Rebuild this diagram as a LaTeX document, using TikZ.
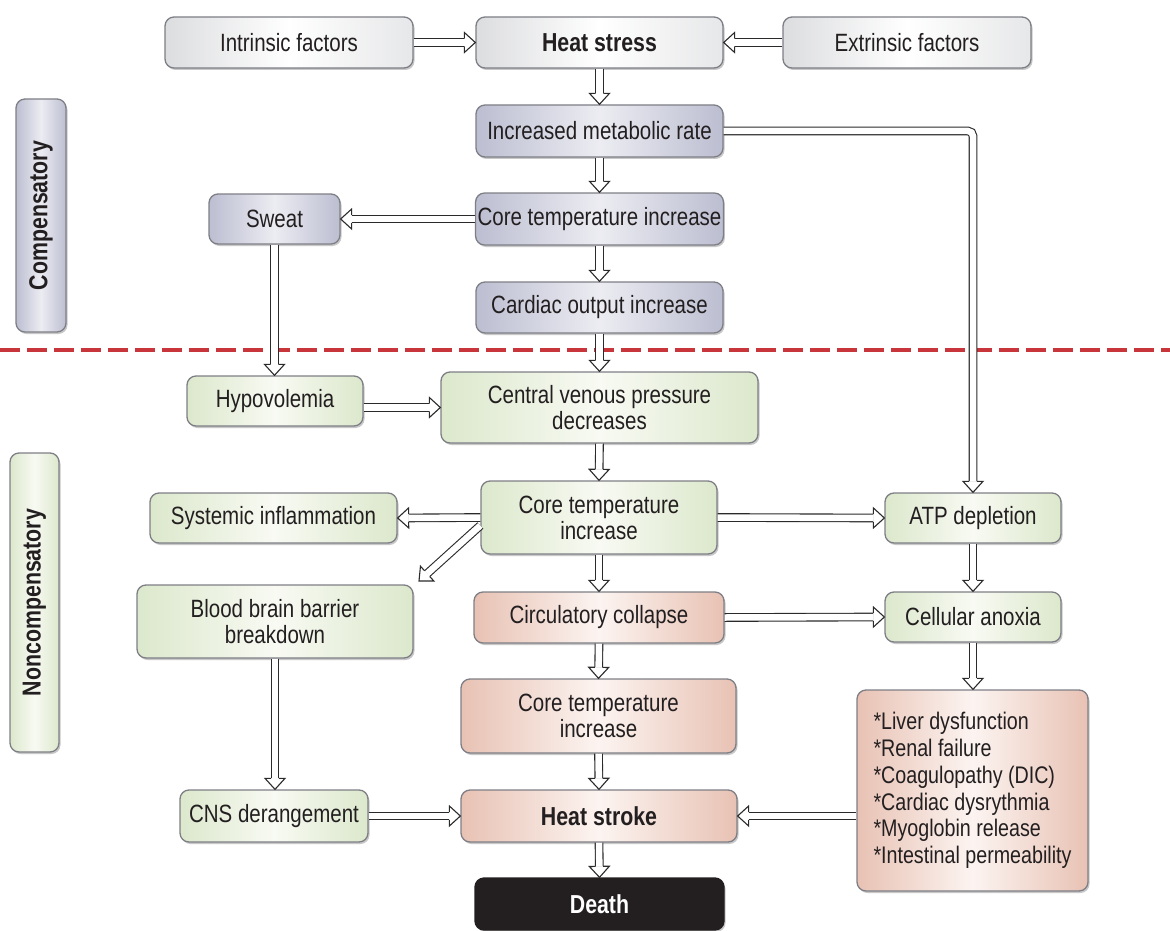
\documentclass[tikz,border=0pt]{standalone}
\usepackage{fontspec}
\setmainfont{Liberation Sans}[FakeStretch=0.82]
\usetikzlibrary{calc,shadows}
\definecolor{txt}{HTML}{231F20}
\definecolor{grayE}{HTML}{DCDDDF}
\definecolor{blueE}{HTML}{BCBED1}
\definecolor{blueM}{HTML}{ECECF2}
\definecolor{greenE}{HTML}{DCE8CC}
\definecolor{greenM}{HTML}{F8FAF3}
\definecolor{pinkE}{HTML}{E8C2B4}
\definecolor{pinkM}{HTML}{FCF4F1}
\definecolor{dashred}{HTML}{C8363B}
\definecolor{boxline}{HTML}{7E7F86}
\definecolor{deathc}{HTML}{231F20}
\definecolor{arrowc}{HTML}{2A2A2A}
\newcommand\boxfont{\fontsize{25}{26}\selectfont}
\newcommand\boldfont{\fontsize{26}{27}\selectfont\bfseries}
\newcommand\hsarrow[2]{%
  \coordinate (hA) at (#1);
  \coordinate (hB) at (#2);
  \coordinate (hC) at ($(hB)!11pt!(hA)$);
  \draw[shaftline] (hA) -- (hC);
  \arrowhead}
\newcommand\arrowhead{%
  \filldraw[headline] ($(hC)!3.8pt!90:(hB)$) -- ($(hC)!10pt!90:(hB)$) -- (hB)
    -- ($(hC)!10pt!-90:(hB)$) -- ($(hC)!3.8pt!-90:(hB)$);}
\tikzset{
  sz/.style 2 args={minimum width=#1pt, minimum height=#2pt},
  box/.style={rounded corners=9pt, draw=boxline, line width=1.3pt, inner sep=2pt,
    align=center, font=\boxfont, text=txt,
    drop shadow={opacity=0.3, shadow xshift=1.5pt, shadow yshift=-2pt, fill=black!70}},
  grayb/.style={box, left color=grayE, right color=grayE!70, middle color=white},
  blueb/.style={box, left color=blueE, right color=blueE, middle color=blueM},
  greenb/.style={box, left color=greenE, right color=greenE, middle color=greenM},
  pinkb/.style={box, left color=pinkE, right color=pinkE, middle color=pinkM},
  deathb/.style={box, fill=deathc, draw=deathc, text=white, font=\boldfont},
  boldt/.style={font=\boldfont},
  shaftline/.style={draw=arrowc, line width=1.1pt, double=white, double distance=6.5pt},
  headline/.style={draw=arrowc, line width=1.1pt, fill=white, line join=miter},
}
\begin{document}
\begin{tikzpicture}[x=1pt,y=-1pt]
\useasboundingbox[fill=white] (0,0) rectangle (1170,931);
% dashed separator
\draw[dashred, line width=4pt, dash pattern=on 20pt off 7pt] (0,350) -- (1170,350);
% top row
\node[grayb, sz={248}{51}] (intr) at (289,42.5) {Intrinsic factors};
\node[grayb, boldt, sz={247}{51}] (hs) at (599.5,42.5) {Heat stress};
\node[grayb, sz={248}{51}] (extr) at (907,42.5) {Extrinsic factors};
% compensatory
\node[blueb, sz={247}{52}] (imr) at (599.5,131) {Increased metabolic rate};
\node[blueb, sz={247}{52}] (cti1) at (599.5,219) {Core temperature increase};
\node[blueb, sz={247}{51}] (coi) at (599.5,307.5) {Cardiac output increase};
\node[blueb, sz={131}{50}] (sweat) at (274.5,219) {Sweat};
\node[blueb, boldt, rotate=90, sz={233}{50}] (comp) at (41,215.5) {Compensatory};
% noncompensatory
\node[greenb, boldt, rotate=90, sz={299}{49}] (noncomp) at (34.5,602.5) {Noncompensatory};
\node[greenb, sz={176}{50}] (hypo) at (275,401) {Hypovolemia};
\node[greenb, sz={317}{71}] (cvp) at (599.5,407.5) {Central venous pressure\\decreases};
\node[greenb, sz={247}{50}] (sysinf) at (273.5,518) {Systemic inflammation};
\node[greenb, sz={236}{73}] (cti2) at (599,517.5) {Core temperature\\increase};
\node[greenb, sz={176}{50}] (atp) at (973,518) {ATP depletion};
\node[greenb, sz={276}{73}] (bbb) at (275,621.5) {Blood brain barrier\\breakdown};
\node[pinkb, sz={250}{51}] (cc) at (599,617.5) {Circulatory collapse};
\node[greenb, sz={176}{50}] (ca) at (973,617) {Cellular anoxia};
\node[pinkb, sz={275}{74}] (cti3) at (598.5,716) {Core temperature\\increase};
\node[pinkb, sz={231}{201}, align=left, font=\fontsize{24}{26.7}\selectfont] (liver) at (972.5,790.5)
  {*Liver dysfunction\\*Renal failure\\*Coagulopathy (DIC)\\*Cardiac dysrythmia\\*Myoglobin release\\*Intestinal permeability};
\node[greenb, sz={188}{52}] (cns) at (274,816) {CNS derangement};
\node[pinkb, boldt, sz={276}{52}] (hstroke) at (599,816) {Heat stroke};
\node[deathb, sz={249}{52}] (death) at (599.5,904) {Death};
\coordinate (bbbtip) at (419,581);
% arrows
\hsarrow{intr.east}{hs.west}
\hsarrow{extr.west}{hs.east}
\hsarrow{hs.south}{imr.north}
\hsarrow{imr.south}{cti1.north}
\hsarrow{cti1.west}{sweat.east}
\hsarrow{cti1.south}{coi.north}
\hsarrow{coi.south}{cvp.north}
\hsarrow{sweat.south}{sweat.south |- hypo.north}
% L-shaped arrow
\coordinate (hB) at (atp.north);
\coordinate (hC) at ($(hB)+(0,-11)$);
\draw[shaftline, rounded corners=5pt] (imr.east) -| (hC);
\arrowhead
\hsarrow{hypo.east |- cvp.west}{cvp.west}
\hsarrow{cvp.south}{cti2.north}
\hsarrow{cti2.west}{sysinf.east}
\hsarrow{$(cti2.west)+(0,8)$}{bbbtip}
\hsarrow{cti2.east}{atp.west}
\hsarrow{atp.south}{ca.north}
\hsarrow{cti2.south}{cc.north}
\hsarrow{cc.east}{ca.west}
\hsarrow{cc.south}{cti3.north}
\hsarrow{ca.south}{ca.south |- liver.north}
\hsarrow{bbb.south}{bbb.south |- cns.north}
\hsarrow{cti3.south}{hstroke.north}
\hsarrow{cns.east}{cns.east -| hstroke.west}
\hsarrow{liver.west |- hstroke.east}{hstroke.east}
\hsarrow{hstroke.south}{death.north}
\end{tikzpicture}
\end{document}
